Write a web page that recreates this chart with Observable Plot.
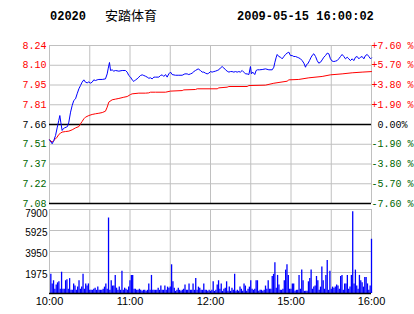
<!DOCTYPE html>
<html><head><meta charset="utf-8">
<script src="https://cdn.jsdelivr.net/npm/d3@7"></script>
<script src="https://cdn.jsdelivr.net/npm/@observablehq/plot@0.6"></script>
<style>
html,body{margin:0;padding:0;background:#fff;}
#wrap{position:relative;width:414px;height:314px;overflow:hidden;background:#fff;}
.t{position:absolute;top:10px;line-height:12px;font:bold 12px "Liberation Mono","DejaVu Sans Mono",monospace;color:#000;white-space:pre;}
.cn{font:13px "Noto Sans CJK SC",sans-serif;line-height:13px;top:8px;}
#wrap svg{position:absolute;left:0;}
</style></head>
<body><div id="wrap">
<div class="t" style="left:50px">02020</div>
<div class="t cn" style="left:105px">安踏体育</div>
<div class="t" style="left:237px">2009-05-15 16:00:02</div>
</div>
<script>
// ---- data ----
const basePrice = 7.66;
const pctSteps = [7.6, 5.7, 3.8, 1.9, 0, -1.9, -3.8, -5.7, -7.6];
const priceTickLabels = ["8.24","8.10","7.95","7.81","7.66","7.51","7.37","7.22","7.08"];
const pctTickLabels = ["+7.60 %","+5.70 %","+3.80 %","+1.90 %","\u00a00.00%","-1.90 %","-3.80 %","-5.70 %","-7.60 %"];
const volTicks = [7900, 5925, 3950, 1975];
const timeTicks = [0, 60, 120, 180, 240];
const timeLabels = ["10:00","11:00","12:00","15:00","16:00"];
const gridMinutes = [0, 30, 60, 90, 120, 150, 180, 210, 240];

const priceMin = [0,2.0,3.2,4.5,5.7,6.9,7.7,8.4,9.4,10.2,11.2,12.4,13.4,14.4,15.7,16.9,18.1,19.4,20.6,21.9,23.1,24.3,25.6,26.8,28.1,29.3,30.6,31.8,33.0,34.3,35.5,36.8,39.3,41.7,43.0,43.7,44.7,45.5,46.7,47.9,49.2,51.7,54.2,56.6,57.9,59.1,60.4,61.6,62.9,64.1,65.3,66.6,67.8,69.1,70.3,71.5,72.8,74.0,75.3,76.5,77.8,79.0,81.5,82.7,84.0,85.2,86.5,87.7,88.9,90.2,91.4,93.9,96.4,98.9,100.9,102.6,103.8,105.1,106.3,107.6,108.8,110.8,112.5,113.8,115.0,116.3,117.5,118.7,120.0,121.2,122.5,123.7,125.0,126.2,127.4,128.7,129.9,131.2,132.4,133.7,134.9,136.1,137.4,138.6,139.9,141.1,142.3,143.6,144.8,146.1,147.3,148.6,149.8,150.5,151.5,153.0,154.0,155.0,156.5,158.5,161.0,163.5,166.0,167.2,168.0,169.0,169.7,170.9,172.2,173.4,174.7,175.9,177.1,178.4,179.6,180.9,182.1,183.4,184.6,185.8,187.1,188.3,189.6,190.8,191.6,192.5,193.8,195.0,196.3,197.0,198.3,199.5,200.7,202.0,203.2,204.5,205.7,207.0,208.2,209.4,210.7,211.9,213.2,214.4,215.6,216.9,218.1,219.4,220.6,221.9,223.1,224.3,225.6,226.8,228.1,229.3,230.6,231.8,233.0,234.3,235.5,236.8,238.0,239.3,240.0];
const priceVal = [7.547,7.518,7.542,7.579,7.635,7.689,7.726,7.677,7.616,7.628,7.635,7.640,7.645,7.677,7.751,7.800,7.837,7.849,7.886,7.923,7.947,7.972,7.989,7.972,7.967,7.974,7.965,7.972,7.989,7.984,7.989,7.992,7.992,7.996,8.033,8.070,8.117,8.058,8.063,8.053,8.058,8.053,8.058,8.058,8.046,8.021,8.009,7.989,7.977,7.989,7.996,8.009,8.021,8.026,8.021,8.016,8.009,8.001,8.004,7.996,8.009,8.009,8.009,8.021,8.026,8.014,8.028,8.009,8.033,8.046,8.028,8.023,8.023,8.023,8.033,8.033,8.028,8.033,8.038,8.050,8.058,8.070,8.058,8.046,8.046,8.038,8.033,8.038,8.050,8.046,8.050,8.053,8.058,8.063,8.077,8.087,8.077,8.063,8.053,8.046,8.050,8.050,8.046,8.050,8.046,8.050,8.046,8.058,8.046,8.033,8.033,8.028,8.087,8.033,8.046,8.028,8.058,8.063,8.063,8.065,8.070,8.063,8.063,8.082,8.119,8.156,8.176,8.161,8.156,8.144,8.161,8.176,8.186,8.193,8.168,8.168,8.161,8.161,8.156,8.151,8.144,8.131,8.112,8.082,8.102,8.107,8.131,8.156,8.176,8.181,8.161,8.131,8.112,8.119,8.136,8.156,8.168,8.186,8.181,8.144,8.127,8.124,8.127,8.131,8.144,8.161,8.176,8.161,8.144,8.156,8.144,8.131,8.144,8.131,8.156,8.161,8.144,8.156,8.161,8.144,8.168,8.176,8.161,8.144,8.151];

const avgMin = [0,2.0,3.2,4.5,5.7,6.9,8.2,9.4,11.9,14.4,16.9,19.4,21.9,23.1,24.3,25.6,26.8,29.3,31.8,34.3,36.8,39.3,41.7,43.0,44.2,46.7,49.2,51.7,55.4,57.9,60.4,61.6,66.6,71.5,74.0,75.3,79.0,86.5,90.2,98.9,100.1,108.8,110.1,125.0,126.2,132.4,133.7,147.3,148.6,161.0,167.2,177.1,178.4,185.8,193.3,203.2,209.4,218.1,225.6,233.0,240.0];
const avgVal = [7.547,7.530,7.542,7.554,7.567,7.586,7.596,7.604,7.608,7.611,7.621,7.635,7.645,7.665,7.682,7.702,7.714,7.726,7.734,7.739,7.743,7.748,7.758,7.788,7.825,7.842,7.847,7.852,7.861,7.866,7.881,7.886,7.891,7.891,7.893,7.898,7.898,7.898,7.906,7.910,7.915,7.918,7.923,7.923,7.930,7.935,7.940,7.940,7.947,7.950,7.964,7.979,7.989,7.992,8.004,8.014,8.026,8.033,8.041,8.046,8.050];

// one value per trading minute, minutes 1..240
const volume = [1800,900,1200,400,800,1000,1100,400,2000,400,400,1200,1300,400,1400,300,300,900,700,300,600,1200,400,600,1800,400,900,700,900,300,300,300,400,500,300,600,300,300,300,400,600,900,400,7100,300,1200,700,700,1700,500,300,600,300,2100,300,500,400,300,600,1200,1700,1700,400,400,300,300,400,300,200,300,300,200,300,900,300,1700,300,300,300,300,500,300,700,300,300,700,300,600,500,600,2700,1100,500,200,300,500,300,200,300,400,800,300,300,900,300,300,900,300,1400,300,600,500,300,300,900,300,300,200,300,200,
300,1100,200,300,800,1200,400,900,200,400,500,1100,200,600,200,500,300,1800,200,300,200,600,400,200,900,700,200,400,600,1200,400,300,400,1200,1200,200,300,300,200,300,700,400,1200,400,400,1600,1800,2900,500,1700,800,300,300,400,1200,2200,2700,1700,400,400,900,900,200,300,300,1700,400,2200,1200,200,200,200,1100,1400,2200,400,600,700,1600,1200,300,600,2500,1200,400,1700,3100,300,2100,400,600,500,600,800,700,400,1600,1700,300,900,900,1700,400,600,1700,7700,900,2200,700,400,1700,1200,1000,600,1500,1500,900,300,700,5100];

// ---- build ----
const yTicks = pctSteps.map(p => basePrice * (1 + p / 100));
const colorOf = p => p > 0 ? "#ff0000" : p < 0 ? "#006600" : "#000000";
const tickRows = pctSteps.map((p, i) => ({pct: p, y: yTicks[i], left: priceTickLabels[i], right: pctTickLabels[i], color: colorOf(p)}));
const priceRows = priceMin.map((m, i) => ({m, p: priceVal[i]}));
const avgRows = avgMin.map((m, i) => ({m, p: avgVal[i]}));
const volRows = volume.map((v, i) => ({m: i + 1, v}));
const mono = "'Courier New','Liberation Mono',monospace";
const sans = "'Liberation Sans',Arial,sans-serif";

const chart1 = Plot.plot({
  width: 414, height: 180,
  marginLeft: 49, marginRight: 43, marginTop: 15, marginBottom: 7,
  x: {domain: [0, 240], axis: null},
  y: {domain: [yTicks[8], yTicks[0]], axis: null},
  style: {background: "transparent", overflow: "visible"},
  marks: [
    Plot.ruleY(tickRows.filter(d => d.pct !== 0 && d.pct !== -7.6), {y: "y", stroke: "#c0c0c0"}),
    Plot.ruleX(gridMinutes, {stroke: "#c0c0c0"}),
    Plot.ruleY([basePrice, yTicks[8]], {stroke: "#000", strokeWidth: 1.5}),
    Plot.line(avgRows, {x: "m", y: "p", stroke: "#ff0000", strokeWidth: 1}),
    Plot.line(priceRows, {x: "m", y: "p", stroke: "#0000ff", strokeWidth: 1}),
    Plot.text(tickRows, {y: "y", text: "left", fill: "color", frameAnchor: "left", textAnchor: "end", dx: -3, fontFamily: mono, fontSize: 10}),
    Plot.text(tickRows, {y: "y", text: "right", fill: "color", frameAnchor: "right", textAnchor: "start", dx: 0, fontFamily: mono, fontSize: 10})
  ]
});
chart1.style.top = "30px";

const chart2 = Plot.plot({
  width: 414, height: 109,
  marginLeft: 49, marginRight: 43, marginTop: 4, marginBottom: 21,
  x: {domain: [0, 240], axis: null},
  y: {domain: [0, 7900], axis: null},
  style: {background: "transparent", overflow: "visible"},
  marks: [
    Plot.ruleY(volTicks, {stroke: "#c0c0c0"}),
    Plot.ruleX(gridMinutes, {stroke: "#c0c0c0"}),
    Plot.ruleX(volRows, {x: "m", y1: 0, y2: "v", stroke: "#0000ff", strokeWidth: 1.3}),
    Plot.ruleY([0], {stroke: "#000", strokeWidth: 1.5}),
    Plot.text(volTicks.slice(0, 1), {y: d => d, text: d => String(d), frameAnchor: "left", textAnchor: "end", dx: -2, dy: 4.5, fontFamily: sans, fontSize: 10}),
    Plot.text(volTicks.slice(1), {y: d => d, text: d => String(d), frameAnchor: "left", textAnchor: "end", dx: -2, dy: 2.5, fontFamily: sans, fontSize: 10}),
    Plot.text(timeTicks, {x: d => d, text: (d, i) => timeLabels[i], frameAnchor: "bottom", dy: 11, fontFamily: sans, fontSize: 11})
  ]
});
chart2.style.top = "205px";

const wrap = document.getElementById("wrap");
wrap.appendChild(chart1);
wrap.appendChild(chart2);
</script>
</body></html>
